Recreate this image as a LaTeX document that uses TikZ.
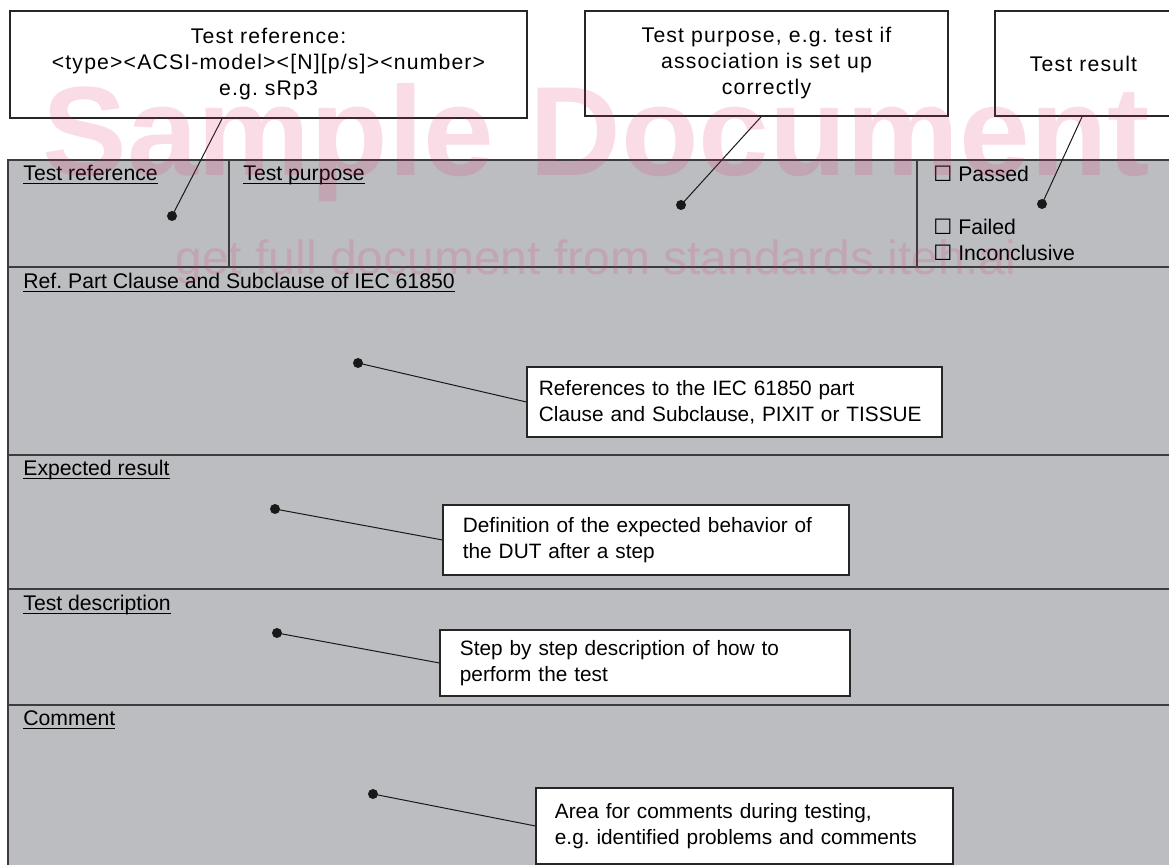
\documentclass[tikz,border=0pt]{standalone}
\usepackage{fontspec}
\setmainfont{Liberation Sans}
\newfontfamily\widefont[LetterSpace=5.5]{Liberation Sans}
\newfontfamily\boxglyph{DejaVu Sans}
\usetikzlibrary{positioning}
\definecolor{cellgray}{RGB}{188,189,193}
\definecolor{rulegray}{RGB}{60,60,60}
\definecolor{markpink}{RGB}{225,40,100}
\newcommand{\chk}{{\boxglyph\char"2610}}
\newcommand{\ulbox}[1]{\setbox0\hbox{#1}\rlap{\rule[-1.6pt]{\wd0}{0.5pt}}\box0}
\frenchspacing
\hyphenpenalty=10000

\begin{document}
\begin{tikzpicture}[x=0.5pt, y=-0.5pt,
    font=\fontsize{10.6}{12.8}\selectfont,
    callout/.style={draw=black!85, line width=0.9pt, fill=white, inner sep=0pt, align=center,
        font=\widefont\fontsize{10.6}{13}\selectfont},
    remark/.style={draw=black!85, line width=0.9pt, fill=white, inner xsep=10pt, inner ysep=0pt, align=left, anchor=north west,
        font=\fontsize{10.4}{13}\selectfont},
    head/.style={anchor=base west, inner sep=0pt},
    dot/.style={circle, fill=black!90, inner sep=0pt, minimum size=5pt},
    lead/.style={line width=0.5pt, black!90},
    rule/.style={line width=0.7pt, draw=rulegray},
    wmark/.style={anchor=base west, inner sep=0pt, text=markpink, text opacity=0.16}]
    \useasboundingbox (0,0) rectangle (1169,865);
    % table background and rules
    \fill[cellgray] (8,160) rectangle (1175,870);
    \draw[rule] (8,870) -- (8,160) -- (1175,160);
    \foreach \y in {267,455,589,705} \draw[rule] (8,\y) -- (1175,\y);
    \draw[rule] (229,160) -- (229,267);
    \draw[rule] (917,160) -- (917,267);
    % field headings
    \node[head] (hRef) at (23,181) {\ulbox{Test reference}};
    \node[head] (hPurpose) at (243,181) {\ulbox{Test purpose}};
    \node[head] (hClause) at (23,289) {\ulbox{Ref. Part Clause and Subclause of IEC 61850}};
    \node[head] (hExpect) at (23,476) {\ulbox{Expected result}};
    \node[head] (hDesc) at (23,611) {\ulbox{Test description}};
    \node[head] (hComment) at (23,726) {\ulbox{Comment}};
    % verdicts
    \node[head] (pass) at (933,182) {\chk\ Passed};
    \node[head] (fail) at (933,235) {\chk\ Failed};
    \node[head] (inconc) at (933,261) {\chk\ Inconclusive};
    % top callouts
    \node[callout, minimum width=258.5pt, minimum height=53.5pt] (cRef) at (268.5,64.5)
        {Test reference:\\<type><ACSI-model><[N][p/s]><number>\\e.g. sRp3};
    \node[callout, minimum width=181.5pt, minimum height=52.5pt] (cPurpose) at (766.5,63.5)
        {Test purpose, e.g. test if\\association is set up\\correctly};
    \node[callout, minimum width=88.5pt, minimum height=52.5pt] (cResult) at (1083.5,63.5) {Test result};
    % dots
    \node[dot] (dRef) at (172,216) {};
    \node[dot] (dPurpose) at (681,205) {};
    \node[dot] (dResult) at (1042,204) {};
    \node[dot] (dClause) at (358,363) {};
    \node[dot] (dExpect) at (275,509) {};
    \node[dot] (dDesc) at (277,633) {};
    \node[dot] (dComment) at (373,794) {};
    % remarks inside the table
    \node[remark, inner xsep=6pt, text width=195.5pt, minimum height=35pt] (rClause) at (526,366)
        {References to the IEC 61850 part\\Clause and Subclause, PIXIT or TISSUE};
    \node[remark, text width=183pt, minimum height=35pt] (rExpect) at (442,504)
        {Definition of the expected behavior of\\the DUT after a step};
    \node[remark, text width=185pt, minimum height=33pt] (rDesc) at (439,629)
        {Step by step description of how to\\perform the test};
    \node[remark, inner xsep=9.5pt, text width=189.5pt, minimum height=38pt] (rComment) at (535,787)
        {Area for comments during testing,\\e.g. identified problems and comments};
    % leaders
    \draw[lead] (dRef.center) -- ([xshift=-23.25pt]cRef.south);
    \draw[lead] (dPurpose.center) -- ([xshift=-2.75pt]cPurpose.south);
    \draw[lead] (dResult.center) -- ([xshift=-0.75pt]cResult.south);
    \draw[lead] (dClause.center) -- (rClause.west);
    \draw[lead] (dExpect.center) -- (rExpect.west);
    \draw[lead] (dDesc.center) -- (rDesc.west);
    \draw[lead] (dComment.center) -- (rComment.west);
    % watermark
    \node[wmark, font=\fontsize{63.5}{70}\selectfont\bfseries] (wmTitle) at (42,176) {Sample Document};
    \node[wmark, font=\fontsize{24}{28}\selectfont] (wmLink) at (175,275) {get full document from standards.iteh.ai};
\end{tikzpicture}
\end{document}
